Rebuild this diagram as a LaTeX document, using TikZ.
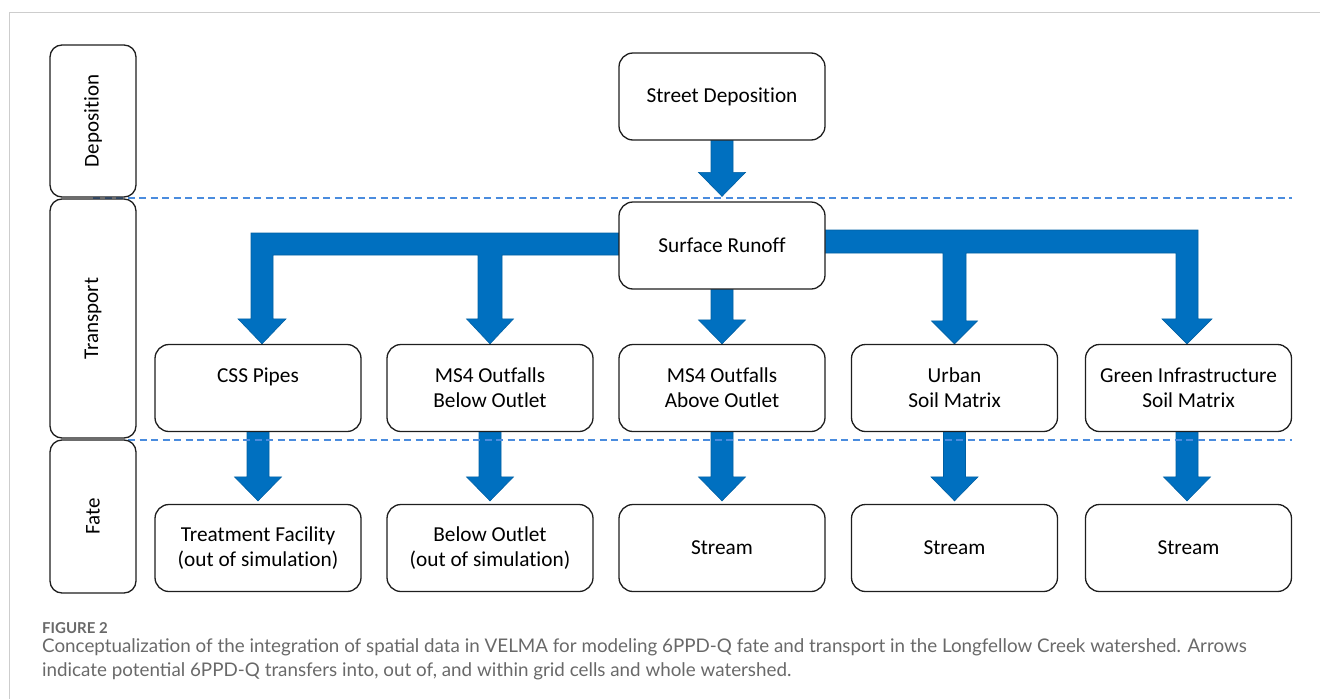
\documentclass[tikz,border=0pt]{standalone}
\usepackage{fontspec}
\setmainfont{Carlito}[RawFeature=-liga]
\newfontfamily\capfont{Lato}
\usetikzlibrary{calc}
\definecolor{arrowblue}{RGB}{0,112,192}
\definecolor{dashblue}{RGB}{74,140,222}
\definecolor{framegray}{RGB}{205,205,205}
\definecolor{capgray}{RGB}{105,105,105}
\definecolor{boxline}{RGB}{30,30,30}
\pgfdeclarelayer{bg}
\pgfsetlayers{bg,main}
\newcommand\blkarrow[2]{\path[blockarrow] let \p1=(#1), \p2=(#2) in
  ({\x1-11pt},\y1) -- ({\x1+11pt},\y1) -- ({\x1+11pt},{\y2+24pt}) -- ({\x1+23.5pt},{\y2+24pt})
  -- (\x1,\y2) -- ({\x1-23.5pt},{\y2+24pt}) -- ({\x1-11pt},{\y2+24pt}) -- cycle;}
\begin{document}
\begin{tikzpicture}[x=1pt,y=-1pt,
  box/.style={draw=boxline, line width=1.3pt, rounded corners=14pt, fill=white,
    minimum width=206pt, minimum height=87pt, align=center,
    font=\fontsize{21.3}{25}\selectfont, inner sep=0pt},
  lbox/.style={draw=boxline, line width=1.3pt, rounded corners=12pt, fill=white,
    minimum height=86pt, align=center, inner sep=0pt,
    rotate=90, font=\fontsize{21}{25}\selectfont},
  blockarrow/.style={fill=arrowblue, draw=arrowblue!85!black, line width=0.6pt, line join=miter},
  sep/.style={draw=dashblue, line width=1.2pt, dash pattern=on 7pt off 4.5pt},
]
\useasboundingbox (0,0) rectangle (1320,699);
\draw[framegray, line width=1pt] (9.5,699) -- (9.5,12) -- (1320,12);

% stage labels
\node[lbox, minimum width=152pt] (dep) at (93,121) {Deposition};
\node[lbox, minimum width=239pt] (tra) at (93,318.5) {Transport};
\node[lbox, minimum width=153pt] (fat) at (93,516.5) {Fate};

% boxes
\node[box] (sd) at (722,96.5) {Street Deposition};
\node[box] (sr) at (722,245.5) {Surface Runoff};
\node[box] (css) at (258,388) {CSS Pipes\\\mbox{}};
\node[box] (ms4b) at (490,388) {MS4 Outfalls\\Below Outlet};
\node[box] (ms4a) at (722,388) {MS4 Outfalls\\Above Outlet};
\node[box] (urb) at (954.5,388) {Urban\\Soil Matrix};
\node[box] (gi) at (1188.5,388) {Green Infrastructure\\Soil Matrix};
\node[box] (tf) at (258,548) {Treatment Facility\\(out of simulation)};
\node[box] (bo) at (490,548) {Below Outlet\\(out of simulation)};
\node[box] (s1) at (722,548) {Stream};
\node[box] (s2) at (954.5,548) {Stream};
\node[box] (s3) at (1188.5,548) {Stream};

\coordinate (d1a) at (93,198);
\coordinate (d1b) at (1292,198);
\coordinate (d2a) at (128,440);
\coordinate (d2b) at (1292,440);

\begin{pgfonlayer}{bg}
  \blkarrow{$(sd.south)+(0,-3)$}{$(sr.north)+(0,-5)$}
  \blkarrow{$(sr.south)+(0,-3)$}{ms4a.north}
  \blkarrow{$(css.south)+(0,-3)$}{$(tf.north)+(0,-3)$}
  \blkarrow{$(ms4b.south)+(0,-3)$}{$(bo.north)+(0,-3)$}
  \blkarrow{$(ms4a.south)+(0,-3)$}{$(s1.north)+(0,-3)$}
  \blkarrow{$(urb.south)+(0,-3)$}{$(s2.north)+(0,-3)$}
  \blkarrow{$(gi.south)+(-1.5,-3)$}{$(s3.north)+(-1.5,-3)$}
  % left branch
  \path[blockarrow] let \p1=(sr.center), \p2=($(css.north)+(4,0)$), \p3=(ms4b.north),
    \n1={\y1+12.5pt}, \n2={\y1-9.5pt} in
    (\x1,\n1) -- ({\x2-11pt},\n1) -- ({\x2-11pt},{\y2+25pt}) -- ({\x2-24pt},{\y2+25pt})
    -- (\x2,\y2) -- ({\x2+24pt},{\y2+25pt}) -- ({\x2+11pt},{\y2+25pt}) -- ({\x2+11pt},\n2)
    -- ({\x3-12pt},\n2) -- ({\x3-12pt},{\y3+25pt}) -- ({\x3-23.5pt},{\y3+25pt})
    -- (\x3,\y3) -- ({\x3+23.5pt},{\y3+25pt}) -- ({\x3+12pt},{\y3+25pt}) -- ({\x3+12pt},\n2)
    -- (\x1,\n2) -- cycle;
  % right branch
  \path[blockarrow] let \p1=(sr.center), \p2=(urb.north), \p3=($(gi.north)+(-1.5,0)$),
    \n1={\y1+15.5pt}, \n2={\y1-7.5pt} in
    (\x1,\n1) -- ({\x3+11pt},\n1) -- ({\x3+11pt},{\y3+25pt}) -- ({\x3+25pt},{\y3+25pt})
    -- (\x3,\y3) -- ({\x3-25pt},{\y3+25pt}) -- ({\x3-11pt},{\y3+25pt}) -- ({\x3-11pt},\n2)
    -- ({\x2+11.5pt},\n2) -- ({\x2+11.5pt},{\y2+23pt}) -- ({\x2+23pt},{\y2+23pt})
    -- (\x2,\y2) -- ({\x2-23pt},{\y2+23pt}) -- ({\x2-11.5pt},{\y2+23pt}) -- ({\x2-11.5pt},\n2)
    -- (\x1,\n2) -- cycle;
  \draw[sep] (d1a) -- (d1b);
  \draw[sep] (d2a) -- (d2b);
\end{pgfonlayer}

% caption
\node[anchor=west, inner sep=0pt, font=\capfont\bfseries\fontsize{15}{17}\selectfont, text=capgray] (figlbl) at (42,628) {FIGURE 2};
\node[anchor=north west, align=left, inner sep=0pt, font=\capfont\fontsize{18.8}{23.5}\selectfont, text=capgray] (cap) at (42,638.5)
  {Conceptualization of the integration of spatial data in VELMA for modeling 6PPD-Q fate and transport in the Longfellow Creek watershed. Arrows\\
   indicate potential 6PPD-Q transfers into, out of, and within grid cells and whole watershed.};
\end{tikzpicture}
\end{document}
